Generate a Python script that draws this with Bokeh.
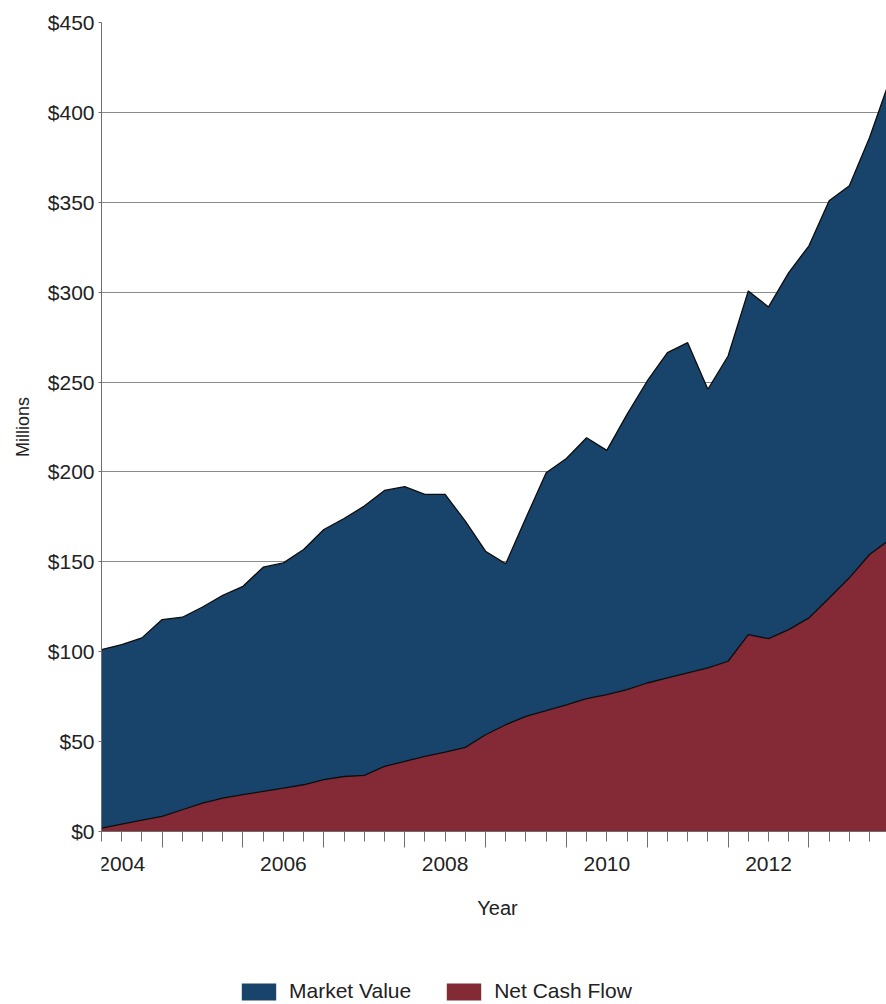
from bokeh.plotting import figure
from bokeh.layouts import column
from bokeh.models import (Range1d, FixedTicker, Legend, LegendItem, NumeralTickFormatter,
                          CustomJSTickFormatter)
from bokeh.core.properties import value
from bokeh.embed import file_html
from bokeh.resources import INLINE

# ---- data ----
quarters = ["2004Q1", "2004Q2", "2004Q3", "2004Q4",
            "2005Q1", "2005Q2", "2005Q3", "2005Q4",
            "2006Q1", "2006Q2", "2006Q3", "2006Q4",
            "2007Q1", "2007Q2", "2007Q3", "2007Q4",
            "2008Q1", "2008Q2", "2008Q3", "2008Q4",
            "2009Q1", "2009Q2", "2009Q3", "2009Q4",
            "2010Q1", "2010Q2", "2010Q3", "2010Q4",
            "2011Q1", "2011Q2", "2011Q3", "2011Q4",
            "2012Q1", "2012Q2", "2012Q3", "2012Q4",
            "2013Q1", "2013Q2", "2013Q3", "2013Q4"]
market_value = [101.2, 104.0, 107.7, 117.9, 119.2, 124.9, 131.4, 136.4,
                147.0, 149.4, 156.9, 168.0, 174.1, 181.0, 189.7, 191.8,
                187.5, 187.5, 172.6, 155.9, 148.9, 174.5, 199.6, 207.5,
                219.0, 212.0, 232.0, 250.6, 266.4, 271.9, 246.0, 264.5,
                300.7, 291.8, 310.9, 325.8, 350.9, 359.2, 386.0, 418.0]
net_cash_flow = [1.9, 4.1, 6.3, 8.4, 12.1, 15.8, 18.6, 20.5,
                 22.3, 24.1, 26.0, 28.8, 30.6, 31.2, 36.2, 39.0,
                 41.8, 44.2, 46.8, 53.8, 59.4, 64.0, 67.2, 70.5,
                 73.9, 76.1, 78.9, 82.6, 85.4, 88.2, 91.0, 94.7,
                 109.5, 107.3, 112.3, 118.8, 129.9, 141.1, 154.1, 162.4]
y_ticks = [0, 50, 100, 150, 200, 250, 300, 350, 400, 450]
year_labels = ["2004", "2006", "2008", "2010", "2012"]
year_boundaries = [2005, 2006, 2007, 2008, 2009, 2010, 2011, 2012, 2013, 2014]
series_names = ["Market Value", "Net Cash Flow"]
x_title = "Year"
y_title = "Millions"

# quarter-end as fractional year
x = [int(q[:4]) + int(q[5]) * 0.25 for q in quarters]
quarter_ticks = sorted(set([b - k * 0.25 for b in year_boundaries for k in range(4)]))
label_x = [int(y) + 0.5 for y in year_labels]

BLUE = "#18436a"
RED = "#832a36"
FONT = "Liberation Sans"
AXIS_GREY = "#6e6e6e"
TEXT = "#222222"

X_START = 2004.25
PX_PER_YEAR = 80.85
FRAME_W = 785
X_END = X_START + FRAME_W / PX_PER_YEAR
xr = Range1d(X_START, X_END)

TOP_H = 851
BOT_H = 1004 - TOP_H

# ---------------- main chart ----------------
p = figure(width=886, height=TOP_H, x_range=xr, y_range=Range1d(0, 450),
           output_backend="svg", toolbar_location=None,
           min_border_left=101, min_border_right=0, min_border_top=22, min_border_bottom=20)
p.outline_line_color = None
p.background_fill_color = "white"
p.border_fill_color = "white"

a1 = p.varea(x=x, y1=0, y2=market_value, fill_color=BLUE)
p.line(x=x, y=market_value, line_color="#0d0d0d", line_width=1.3)
a2 = p.varea(x=x, y1=0, y2=net_cash_flow, fill_color=RED)
p.line(x=x, y=net_cash_flow, line_color="#0d0d0d", line_width=1.3)

# y axis
p.yaxis.ticker = FixedTicker(ticks=y_ticks)
p.yaxis.formatter = NumeralTickFormatter(format="$0")
p.yaxis.major_label_text_font_size = "21px"
p.yaxis.major_label_text_font = FONT
p.yaxis.major_label_text_color = TEXT
p.yaxis.major_label_standoff = 4
p.yaxis.major_tick_out = 3
p.yaxis.major_tick_in = 0
p.yaxis.minor_tick_out = 0
p.yaxis.minor_tick_in = 0
p.yaxis.axis_line_color = AXIS_GREY
p.yaxis.major_tick_line_color = AXIS_GREY
p.yaxis.axis_label = y_title
p.yaxis.axis_label_text_font = FONT
p.yaxis.axis_label_text_font_size = "18px"
p.yaxis.axis_label_text_font_style = "normal"
p.yaxis.axis_label_text_color = TEXT
p.yaxis.axis_label_standoff = 12

p.ygrid.grid_line_color = "#8c8c8c"
p.ygrid.grid_line_width = 1
p.xgrid.visible = False

# x axis: tick marks only (year boundaries long, quarters short)
p.xaxis.ticker = FixedTicker(ticks=year_boundaries, minor_ticks=quarter_ticks)
p.xaxis.formatter = CustomJSTickFormatter(code="return ''")
p.xaxis.major_tick_out = 16
p.xaxis.major_tick_in = 0
p.xaxis.minor_tick_out = 10
p.xaxis.minor_tick_in = 0
p.xaxis.major_label_standoff = 0
p.xaxis.major_label_text_font_size = "2px"
p.xaxis.axis_line_color = AXIS_GREY
p.xaxis.major_tick_line_color = AXIS_GREY
p.xaxis.minor_tick_line_color = AXIS_GREY

# ---------------- strip below: year labels, axis title, legend ----------------
q = figure(width=886, height=BOT_H, output_backend="svg", toolbar_location=None,
           x_axis_location=None, y_axis_location=None, min_border=0,
           x_range=xr, y_range=Range1d(0, BOT_H))
q.outline_line_color = None
q.xgrid.visible = False
q.ygrid.visible = False
q.extra_y_ranges = {"hidden": Range1d(-1000, -900)}

q.text(x=label_x, y=[BOT_H - 12] * len(label_x), text=year_labels,
       text_align="center", text_baseline="middle", text_font=value(FONT),
       text_font_size="21px", text_color=TEXT)
q.text(x=[X_START + 396 / PX_PER_YEAR], y=[BOT_H - 56], text=[x_title],
       text_align="center", text_baseline="middle", text_font=value(FONT),
       text_font_size="20px", text_color=TEXT)

l1 = q.varea(x=x, y1=0, y2=market_value, fill_color=BLUE, y_range_name="hidden")
l2 = q.varea(x=x, y1=0, y2=net_cash_flow, fill_color=RED, y_range_name="hidden")
legend = Legend(items=[LegendItem(label=series_names[0], renderers=[l1]),
                       LegendItem(label=series_names[1], renderers=[l2])],
                location=(136, 1), orientation="horizontal",
                glyph_width=43, glyph_height=21, label_text_font_size="21px",
                label_text_font=FONT, label_text_color=TEXT,
                label_standoff=9, spacing=31, padding=0, margin=0,
                border_line_color=None, background_fill_alpha=0)
q.add_layout(legend)

layout = column(p, q, spacing=0)
open("out.html", "w").write(file_html(layout, INLINE))
